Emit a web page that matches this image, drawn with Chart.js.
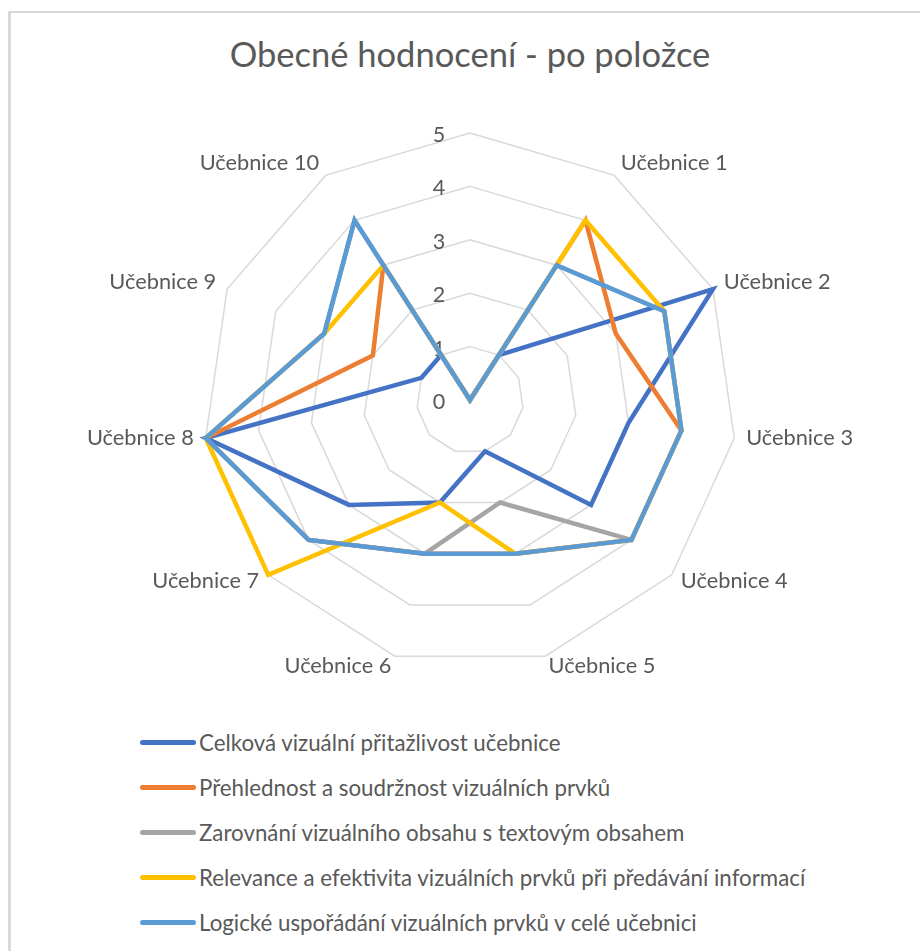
<!DOCTYPE html>
<html>
<head>
<meta charset="utf-8">
<script src="https://cdn.jsdelivr.net/npm/chart.js@4.4.1/dist/chart.umd.min.js"></script>
<style>
  body { margin: 0; background: #fff; }
  #wrap { position: relative; width: 920px; height: 951px; overflow: hidden; font-family: Lato, "Noto Sans", sans-serif; color: #595959; }
  #frame { position: absolute; left: 8px; top: 11px; right: -10px; bottom: -10px; border-left: 3px solid #d9d9d9; border-top: 2px solid #d9d9d9; }
  #title { position: absolute; left: 0; width: 940px; top: 32px; text-align: center; font-size: 34.5px; line-height: 44px; }
  #radar { position: absolute; left: 0; top: 0; }
  #legend { position: absolute; left: 140px; top: 720px; }
  .row { height: 45px; display: flex; align-items: center; font-size: 22.3px; white-space: nowrap; }
  .row i { display: inline-block; width: 56px; height: 5px; border-radius: 3px; margin-right: 3px; }
</style>
</head>
<body>
<div id="wrap">
  <div id="frame"></div>
  <div id="title">Obecné hodnocení - po položce</div>
  <canvas id="radar" width="920" height="700"></canvas>
  <div id="legend"></div>
</div>
<script>
// categories (first spoke has no label in the source sheet)
const categories = ['', 'Učebnice 1', 'Učebnice 2', 'Učebnice 3', 'Učebnice 4', 'Učebnice 5',
  'Učebnice 6', 'Učebnice 7', 'Učebnice 8', 'Učebnice 9', 'Učebnice 10'];
const tickValues = [0, 1, 2, 3, 4, 5];

const seriesNames = [
  'Celková vizuální přitažlivost učebnice',
  'Přehlednost a soudržnost vizuálních prvků',
  'Zarovnání vizuálního obsahu s textovým obsahem',
  'Relevance a efektivita vizuálních prvků při předávání informací',
  'Logické uspořádání vizuálních prvků v celé učebnici'
];
const celkova    = [0, 1, 5, 3, 3, 1, 2, 3, 5, 1, 1];
const prehlednost = [0, 4, 3, 4, 4, 3, 3, 4, 5, 2, 3];
const zarovnani  = [0, 3, 4, 4, 4, 2, 3, 4, 5, 3, 4];
const relevance  = [0, 4, 4, 4, 4, 3, 2, 5, 5, 3, 3];
const logicke    = [0, 3, 4, 4, 4, 3, 3, 4, 5, 3, 4];

const colors = ['#4472C4', '#ED7D31', '#A5A5A5', '#FFC000', '#5B9BD5'];
const seriesData = [celkova, prehlednost, zarovnani, relevance, logicke];

// legend (one item per row, like the Excel chart)
const legendEl = document.getElementById('legend');
seriesNames.forEach(function (name, i) {
  const row = document.createElement('div');
  row.className = 'row';
  row.innerHTML = '<i style="background:' + colors[i] + '"></i><span></span>';
  row.querySelector('span').textContent = name;
  legendEl.appendChild(row);
});

// point labels and tick labels placed like Excel does
const radarText = {
  id: 'radarText',
  beforeDatasetsDraw(chart) {
    const scale = chart.scales.r;
    const ctx = chart.ctx;
    ctx.save();
    ctx.font = '21.5px Lato, "Noto Sans", sans-serif';
    ctx.fillStyle = '#595959';
    ctx.textAlign = 'center';
    ctx.textBaseline = 'middle';
    tickValues.forEach(function (v) {
      const p = scale.getPointPositionForValue(0, v);
      ctx.fillText(String(v), p.x - 31, p.y + 2);
    });
    ctx.restore();
  },
  afterDraw(chart) {
    const scale = chart.scales.r;
    const ctx = chart.ctx;
    ctx.save();
    ctx.font = '21.8px Lato, "Noto Sans", sans-serif';
    ctx.fillStyle = '#595959';
    ctx.textBaseline = 'middle';
    categories.forEach(function (label, i) {
      if (!label) return;
      const p = scale.getPointPosition(i, scale.drawingArea + 12);
      const dx = p.x - scale.xCenter;
      ctx.textAlign = dx > 5 ? 'left' : (dx < -5 ? 'right' : 'center');
      ctx.fillText(label, p.x, p.y - 2);
    });
    ctx.restore();
  }
};

const ctx = document.getElementById('radar').getContext('2d');
new Chart(ctx, {
  type: 'radar',
  data: {
    labels: categories,
    datasets: seriesData.map(function (values, i) {
      return {
        label: seriesNames[i],
        data: values,
        borderColor: colors[i],
        backgroundColor: colors[i],
        borderWidth: 4.5,
        pointRadius: 0,
        pointHoverRadius: 0,
        fill: false,
        tension: 0,
        order: seriesData.length - i
      };
    })
  },
  options: {
    responsive: false,
    maintainAspectRatio: false,
    animation: false,
    layout: {
      padding: { left: 20, right: 0, top: 133, bottom: 33 }
    },
    plugins: {
      legend: { display: false },
      title: { display: false },
      tooltip: { enabled: false }
    },
    scales: {
      r: {
        min: 0,
        max: 5,
        ticks: { display: false, stepSize: 1 },
        grid: { circular: false, color: '#d9d9d9', lineWidth: 1.5 },
        angleLines: { display: false },
        pointLabels: { display: false }
      }
    }
  },
  plugins: [radarText]
});
</script>
</body>
</html>
